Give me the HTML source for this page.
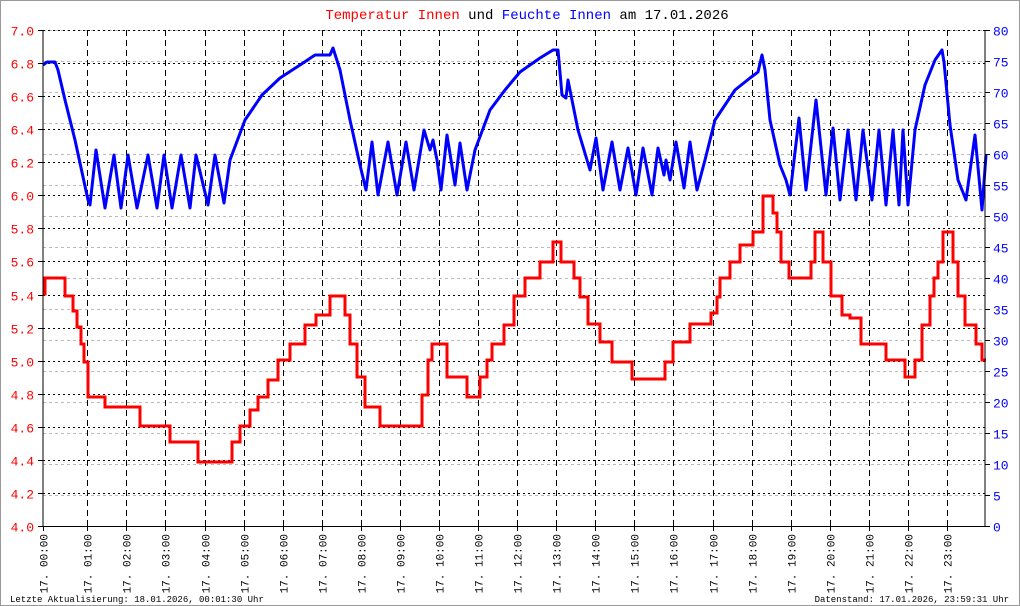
<!DOCTYPE html>
<html><head><meta charset="utf-8"><style>
html,body{margin:0;padding:0;background:#fff}
svg{display:block}
text{font-family:"Liberation Mono","DejaVu Sans Mono",monospace}
</style></head><body>
<svg width="1020" height="606" xmlns="http://www.w3.org/2000/svg">
<rect x="0.5" y="0.5" width="1019" height="605" fill="#fff" stroke="#999"/>
<text x="527" y="19" text-anchor="middle" font-size="14"><tspan fill="#f00">Temperatur Innen</tspan> <tspan fill="#000">und</tspan> <tspan fill="#00f">Feuchte Innen</tspan> <tspan fill="#000">am 17.01.2026</tspan></text>
<g id="grid"></g>
<g id="axes"></g>
<polyline id="blue" fill="none" stroke="#00f" stroke-width="3" stroke-linejoin="round"/>
<polyline id="red" fill="none" stroke="#f00" stroke-width="3"/>
<line x1="43" y1="30" x2="43" y2="527" stroke="#000"/>
<line x1="985" y1="30" x2="985" y2="527" stroke="#000"/>
<line x1="38" y1="526.5" x2="990" y2="526.5" stroke="#000"/>
<text x="10" y="602" font-size="9">Letzte Aktualisierung: 18.01.2026, 00:01:30 Uhr</text>
<text x="1009" y="602" font-size="9" text-anchor="end">Datenstand: 17.01.2026, 23:59:31 Uhr</text>
</svg>
<script>
const NS="http://www.w3.org/2000/svg",svg=document.querySelector('svg');
const g=document.getElementById('grid'),ax=document.getElementById('axes');
function el(p,t,a,txt){const e=document.createElementNS(NS,t);for(const k in a)e.setAttribute(k,a[k]);if(txt)e.textContent=txt;p.appendChild(e);return e;}
for(let k=0;k<=16;k++){const y=Math.round(30+31*k)+0.5;el(g,'line',{x1:43,x2:985,y1:y,y2:y,stroke:'#bbb','stroke-dasharray':'3,3'});
 el(ax,'line',{x1:985,x2:990,y1:y,y2:y,stroke:'#000'});
 el(ax,'text',{x:993,y:y+5,fill:'#00f','font-size':13},String(80-5*k));}
for(let k=0;k<=15;k++){const y=Math.round(30+496/15*k)+0.5;if(k<15)el(g,'line',{x1:43,x2:985,y1:y,y2:y,stroke:'#000','stroke-dasharray':'2,3'});
 el(ax,'line',{x1:38,x2:43,y1:y,y2:y,stroke:'#000'});
 el(ax,'text',{x:34,y:y+5,fill:'#f00','font-size':13,'text-anchor':'end'},(7-0.2*k).toFixed(1));}
for(let h=0;h<24;h++){const x=h==0?43.5:Math.round(48.2+39.08*h)+0.5;
 if(h>0)el(g,'line',{x1:x,x2:x,y1:30,y2:526,stroke:'#000','stroke-dasharray':'6,4'});
 el(ax,'line',{x1:x,x2:x,y1:526,y2:531,stroke:'#000'});
 const hh=(h<10?'0':'')+h;
 el(ax,'text',{x:0,y:0,'font-size':11,'text-anchor':'end',transform:`translate(${x+4},534) rotate(-90)`},'17. '+hh+':00');}
const blue=[[43,65],[47,62],[55,62],[58,70],[65,100],[75,140],[88,200],[90,205],[96,150],[105,208],[114,155],[121,208],[128,155],[137,208],[148,155],[157,208],[164,155],[172,208],[181,155],[190,208],[196,155],[208,205],[215,155],[224,203],[230,160],[245,120],[262,95],[280,78],[300,65],[315,55],[330,55],[333,48],[340,70],[350,120],[360,165],[366,190],[372,142],[378,195],[388,142],[397,195],[406,142],[414,190],[424,130],[430,150],[433,140],[437,160],[441,190],[447,135],[455,185],[460,143],[467,190],[475,150],[490,110],[505,90],[520,72],[540,58],[553,50],[558,50],[562,95],[566,98],[568,80],[571,95],[578,130],[590,170],[596,138],[603,190],[612,142],[620,190],[628,148],[636,195],[643,148],[652,195],[658,148],[664,175],[666,160],[670,180],[676,142],[684,188],[690,142],[697,190],[705,160],[715,120],[735,90],[750,78],[758,72],[762,55],[765,70],[770,120],[780,165],[786,180],[790,195],[799,118],[806,190],[816,100],[826,195],[833,128],[840,200],[848,130],[856,200],[863,130],[872,200],[879,130],[886,205],[893,130],[899,205],[903,130],[908,205],[915,130],[925,85],[935,60],[942,50],[944,62],[950,125],[958,180],[966,200],[975,135],[982,210],[986,155]];
document.getElementById('blue').setAttribute('points',blue.map(p=>p.join(',')).join(' '));
const steps=[[43,294],[45,278],[65,296],[73,311],[77,327],[81,344],[84,362],[88,397],[105,407],[140,426],[170,442],[198,462],[232,442],[240,426],[250,410],[258,397],[268,380],[278,360],[290,344],[305,325],[316,315],[330,296],[345,315],[350,344],[357,377],[365,407],[380,426],[422,395],[428,360],[432,344],[447,377],[467,397],[480,377],[487,360],[492,344],[504,325],[514,296],[525,278],[540,262],[553,242],[561,262],[574,278],[580,297],[588,324],[600,342],[612,362],[632,379],[665,362],[673,342],[690,324],[711,313],[717,297],[720,278],[730,262],[740,245],[753,232],[763,196],[773,213],[777,232],[781,262],[789,278],[808,278],[811,262],[815,232],[823,262],[831,296],[842,315],[850,318],[861,344],[886,360],[905,377],[915,360],[922,325],[930,296],[934,278],[938,262],[943,232],[953,262],[958,296],[965,325],[976,344],[982,360],[986,360]];
let pts=[];for(let i=0;i<steps.length;i++){const [x,y]=steps[i];if(i>0)pts.push([x,steps[i-1][1]]);pts.push([x,y]);}
document.getElementById('red').setAttribute('points',pts.map(p=>p.join(',')).join(' '));
</script>
</body></html>
